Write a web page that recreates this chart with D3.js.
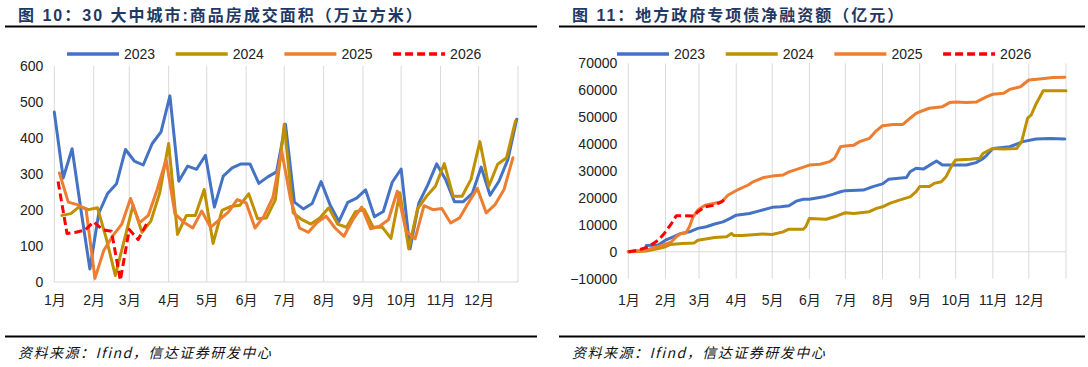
<!DOCTYPE html>
<html><head><meta charset="utf-8">
<script src="https://cdn.jsdelivr.net/npm/d3@7"></script>
<style>
body{margin:0;background:#fff;}
svg text{font-family:"Liberation Sans",Arial,"Noto Sans CJK SC",sans-serif;}
</style></head><body>
<svg id="c" width="1088" height="367"></svg>
<script>
// ---------- shared data ----------
const monthLabels = ["1月","2月","3月","4月","5月","6月","7月","8月","9月","10月","11月","12月"];
const monthStartDays = [0,31,59,90,120,151,181,212,243,273,304,334,365];
const years = ["2023","2024","2025","2026"];

// ---------- chart 1: weekly sales area (万平方米), weekly points ----------
const salesFirstDay = [0, 6, 4, 3];   // day-of-year of first weekly observation per year
const sales2023 = [472,289,370,200,36,191,246,273,368,336,325,384,417,517,280,322,313,352,208,294,317,328,328,274,292,306,438,222,203,218,279,215,168,221,233,256,181,196,277,314,92,220,270,328,285,223,223,246,319,241,280,340,452];
const sales2024 = [185,190,210,201,206,120,18,115,213,138,169,248,385,132,185,185,257,107,199,210,213,245,176,178,228,438,192,173,161,178,206,161,152,195,201,152,153,121,248,92,204,238,266,329,238,238,285,390,266,327,345,447];
const sales2025 = [303,222,215,202,10,88,128,160,232,164,185,257,340,189,166,150,197,152,173,194,229,220,150,183,234,364,229,150,138,166,183,150,127,173,208,148,155,173,252,141,120,212,201,204,164,178,220,260,192,215,257,345];
const sales2026 = [279,135,138,144,167,145,141,5,146,118,164];
const salesTicks = [0,100,200,300,400,500,600];

// ---------- chart 2: special bond net financing, cumulative (亿元) ----------
const debt2023Days = [0,8,14,15,25,31,38,44,51,58,65,72,79,85,90,101,107,112,120,127,134,140,146,151,163,171,177,181,196,204,212,217,232,235,240,246,257,262,273,282,290,296,299,304,318,329,340,352,364];
const debt2023Vals = [0,300,500,2300,2500,4300,5600,6800,7400,8700,9300,10300,11100,12400,13600,14200,14900,15500,16500,16700,17100,18800,19500,19500,20400,21400,22300,22700,22900,24200,25200,26900,27600,29700,31000,30700,33700,32200,32200,32200,33100,34700,35900,38400,39000,40900,41900,42100,41900];
const debt2024Days = [0,15,25,31,35,45,55,58,72,82,86,88,95,101,112,120,129,134,146,148,151,165,174,181,188,201,207,212,218,226,235,240,243,251,255,261,265,270,273,285,293,296,304,313,324,328,333,336,340,346,365];
const debt2024Vals = [0,300,1200,1860,2700,3100,3300,4300,5300,5600,6800,6000,6000,6200,6600,6400,7400,8400,8400,9300,12400,12100,13300,14500,14200,14900,16100,16700,18000,19200,20400,22300,24200,24200,25400,26000,27900,32200,34100,34400,34700,36600,38400,38200,38400,40900,49600,50800,54900,59800,59800];
const debt2025Days = [0,11,25,31,36,40,44,48,51,54,58,64,72,78,83,92,100,104,113,120,129,134,143,151,160,168,172,177,181,188,193,201,206,212,221,229,235,240,243,251,262,268,273,282,290,299,304,313,318,327,334,343,354,364];
const debt2025Vals = [0,250,1900,2850,3700,5600,6800,7000,9300,13000,15500,17300,18000,18600,21000,23200,24800,26000,27600,28100,28500,29700,31000,32200,32500,33500,34700,39000,39300,39600,40900,42100,44600,46800,47300,47300,49600,51400,52000,53300,53900,55400,55600,55400,55600,57600,58500,58900,60300,61300,63800,64200,64700,64800];
const debt2026Days = [0,8,17,25,30,36,40,44,55,58,64,72,78,81];
const debt2026Vals = [0,600,1860,4300,6800,10500,13400,13400,13300,14900,16700,17300,18600,19800];
const debtTicks = [-10000,0,10000,20000,30000,40000,50000,60000,70000];

// ---------- styles ----------
const seriesColor = ["#4472C4","#BF9000","#ED7D31","#FF0000"];
const seriesDash = [null,null,null,"8,4"];
const titleColor = "#1F3864";
const gridColor = "#D9D9D9";

const svg = d3.select("#c");

function weekly(vals, first){ return vals.map((v,i)=>({d:first+7*i, v:v})); }
function paired(days, vals){ return days.map((d,i)=>({d:d, v:vals[i]})); }

function panel(cfg){
  const g = svg.append("g");
  // title
  g.append("text").attr("x",cfg.titleX).attr("y",21).text(cfg.title)
    .attr("font-size",16).attr("font-weight","bold").attr("fill",titleColor)
    .attr("letter-spacing","2px");
  g.append("line").attr("x1",cfg.ruleX0).attr("x2",cfg.ruleX1).attr("y1",26.5).attr("y2",26.5)
    .attr("stroke","#000").attr("stroke-width",2);
  // footer
  g.append("line").attr("x1",cfg.ruleX0).attr("x2",cfg.ruleX1).attr("y1",336.5).attr("y2",336.5)
    .attr("stroke","#000").attr("stroke-width",2);
  g.append("text").attr("x",cfg.titleX).attr("y",358).text("资料来源：Ifind，信达证券研发中心")
    .attr("font-size",14).attr("font-style","italic").attr("letter-spacing","1.5px")
    .style("font-family","'Noto Sans CJK SC',sans-serif").attr("fill","#111");

  const x = d3.scaleLinear().domain([0,365]).range([cfg.x0,cfg.x1]);
  const y = d3.scaleLinear().domain(d3.extent(cfg.ticks)).range([cfg.yBottom,cfg.yTop]);
  const yMin = d3.min(cfg.ticks), yMax = d3.max(cfg.ticks);

  // vertical gridlines at month starts
  g.selectAll("line.vg").data(monthStartDays).join("line").attr("class","vg")
    .attr("x1",d=>x(d)).attr("x2",d=>x(d)).attr("y1",y(yMax)).attr("y2",y(yMin))
    .attr("stroke",gridColor).attr("stroke-width",1);
  // zero line
  g.append("line").attr("x1",x(0)).attr("x2",x(365)).attr("y1",y(0)).attr("y2",y(0))
    .attr("stroke",gridColor).attr("stroke-width",1);

  // y axis
  const ya = g.append("g").attr("transform",`translate(${x(0)},0)`)
    .call(d3.axisLeft(y).tickValues(cfg.ticks).tickSize(0).tickPadding(11).tickFormat(d3.format("d")));
  ya.select(".domain").remove();
  ya.selectAll("text").attr("font-size",14).attr("fill","#222").style("font-family","'Liberation Sans',Arial,sans-serif");

  // x axis
  const xa = g.append("g").attr("transform",`translate(0,${y(yMin)})`)
    .call(d3.axisBottom(x).tickValues(monthStartDays.slice(0,12)).tickSize(0).tickPadding(cfg.xPad)
      .tickFormat((d,i)=>monthLabels[i]));
  xa.select(".domain").remove();
  xa.selectAll("text").attr("font-size",14).attr("fill","#222");

  // lines
  const line = d3.line().x(d=>x(d.d)).y(d=>y(d.v));
  cfg.series.forEach((s,i)=>{
    g.append("path").datum(s).attr("d",line).attr("fill","none")
      .attr("stroke",seriesColor[i]).attr("stroke-width",3)
      .attr("stroke-linejoin","round").attr("stroke-linecap", i===3?"butt":"round")
      .attr("stroke-dasharray",seriesDash[i]);
  });

  // legend
  const lg = g.append("g");
  years.forEach((yr,i)=>{
    const lx = cfg.legendX + i*108.7;
    lg.append("line").attr("x1",lx).attr("x2",lx+52).attr("y1",54).attr("y2",54)
      .attr("stroke",seriesColor[i]).attr("stroke-width",3.5)
      .attr("stroke-dasharray",seriesDash[i]);
    lg.append("text").attr("x",lx+57).attr("y",59).text(yr).attr("font-size",14).attr("fill","#222");
  });
}

panel({
  title:"图 10：30 大中城市:商品房成交面积（万立方米）", titleX:18, ruleX0:5, ruleX1:537,
  x0:54.3, x1:518, yTop:66, yBottom:282, ticks:salesTicks, xPad:13, legendX:67,
  series:[weekly(sales2023,salesFirstDay[0]),weekly(sales2024,salesFirstDay[1]),
          weekly(sales2025,salesFirstDay[2]),weekly(sales2026,salesFirstDay[3])]
});
panel({
  title:"图 11：地方政府专项债净融资额（亿元）", titleX:572, ruleX0:559, ruleX1:1085,
  x0:628.3, x1:1066, yTop:63.3, yBottom:278.7, ticks:debtTicks, xPad:16, legendX:617,
  series:[paired(debt2023Days,debt2023Vals),paired(debt2024Days,debt2024Vals),
          paired(debt2025Days,debt2025Vals),paired(debt2026Days,debt2026Vals)]
});
</script>
</body></html>
